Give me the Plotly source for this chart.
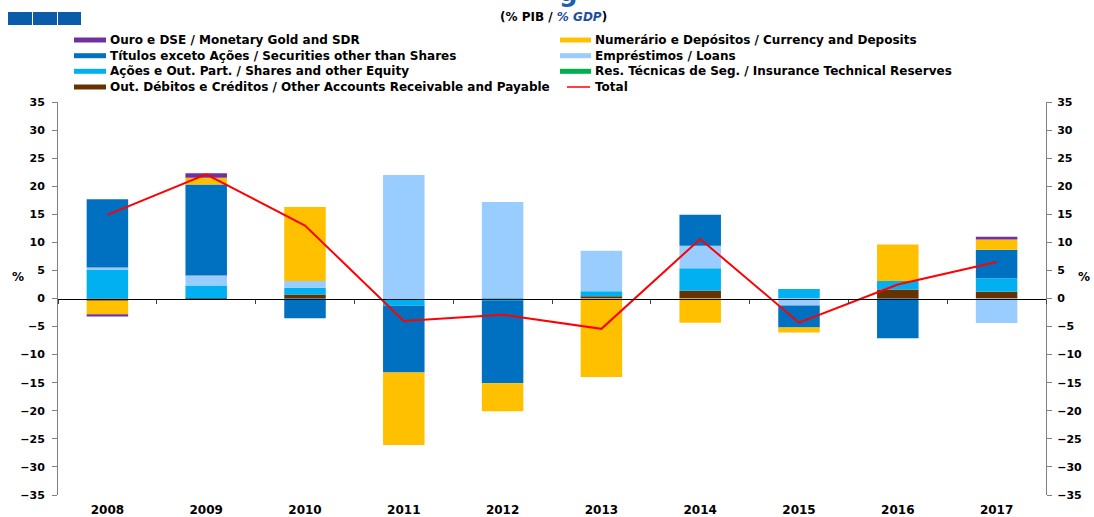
import plotly.graph_objects as go

# ---------------- data ----------------
years = ["2008", "2009", "2010", "2011", "2012", "2013", "2014", "2015", "2016", "2017"]

gold       = [-0.4, 0.8, 0.0, 0.0, 0.0, 0.0, 0.0, 0.0, 0.0, 0.5]
currency   = [-2.4, 1.2, 13.2, -12.9, -5.0, -14.0, -4.3, -0.9, 6.5, 1.8]
securities = [12.2, 16.2, -3.5, -11.9, -14.8, 0.0, 5.5, -3.9, -7.1, 5.1]
loans      = [0.3, 1.8, 1.2, 22.0, 17.2, 7.2, 4.0, -1.25, 0.0, -4.35]
shares     = [5.2, 2.3, 1.2, -1.3, -0.3, 0.9, 4.0, 1.7, 1.5, 2.4]
insurance  = [0.0, 0.0, 0.0, 0.0, 0.0, 0.0, 0.0, 0.0, 0.0, 0.0]
other      = [-0.4, -0.2, 0.7, 0.0, 0.0, 0.4, 1.4, 0.0, 1.6, 1.2]
total      = [14.9, 22.1, 13.0, -4.0, -2.9, -5.4, 10.6, -4.3, 2.5, 6.5]

y_ticks = list(range(-35, 40, 5))

names = {
    "gold": "Ouro e DSE / Monetary Gold and SDR",
    "currency": "Numerário e Depósitos / Currency and Deposits",
    "securities": "Títulos exceto Ações / Securities other than Shares",
    "loans": "Empréstimos / Loans",
    "shares": "Ações e Out. Part. / Shares and other Equity",
    "insurance": "Res. Técnicas de Seg. / Insurance Technical Reserves",
    "other": "Out. Débitos e Créditos / Other Accounts Receivable and Payable",
    "total": "Total",
}
colors = {
    "gold": "#7030A0",
    "currency": "#FFC000",
    "securities": "#0070C0",
    "loans": "#99CCFF",
    "shares": "#00B0F0",
    "insurance": "#00B050",
    "other": "#663300",
    "total": "#FF0000",
}
series = {
    "gold": gold, "currency": currency, "securities": securities, "loans": loans,
    "shares": shares, "insurance": insurance, "other": other,
}

# ---------------- geometry ----------------
W, H = 1094, 517
L, R, T, B = 58, 1046, 102, 495
FONT = "DejaVu Sans"


def px(x):
    return (x - L) / (R - L)


def py(y):
    return (B - y) / (B - T)


fig = go.Figure()

# stacking order (bottom -> top)
for key in ["other", "insurance", "shares", "loans", "securities", "currency", "gold"]:
    fig.add_trace(go.Bar(
        x=years, y=series[key], name=names[key], marker_color=colors[key],
        marker_line_width=0, showlegend=False,
    ))

fig.add_trace(go.Scatter(
    x=years, y=total, name=names["total"], mode="lines",
    line=dict(color=colors["total"], width=2), xaxis="x2", yaxis="y2",
    showlegend=False,
))

axis_gray = "#808080"
yax_common = dict(
    range=[-35, 35], tickmode="array", tickvals=y_ticks, automargin=False,
    showgrid=False, zeroline=False, showline=True, linecolor=axis_gray, linewidth=1,
    ticks="outside", ticklen=5, tickcolor=axis_gray, tickwidth=1,
    tickfont=dict(family=FONT, size=11, color="black", weight="bold"),
)

fig.update_layout(
    width=W, height=H,
    margin=dict(l=L, r=W - R, t=T, b=H - B, pad=0, autoexpand=False),
    paper_bgcolor="white", plot_bgcolor="white",
    barmode="relative", bargap=0.58,
    xaxis=dict(
        type="category", categoryorder="array", categoryarray=years, range=[-0.5, 9.5],
        showgrid=False, zeroline=False, showline=False, automargin=False,
        ticks="outside", ticklen=4, tickcolor="rgba(0,0,0,0)",
        tickfont=dict(family=FONT, size=12, color="black", weight="bold"),
    ),
    xaxis2=dict(
        type="category", categoryorder="array", categoryarray=years, range=[-0.5, 9.5],
        overlaying="x", anchor="free", position=0.5, automargin=False,
        showgrid=False, zeroline=False, showline=True, linecolor="black", linewidth=1,
        ticks="outside", tickson="boundaries", ticklen=4, tickcolor="#404040",
        showticklabels=False,
    ),
    yaxis=dict(**yax_common, side="left", ticklabelstandoff=5),
    yaxis2=dict(**yax_common, side="right", overlaying="y", anchor="x2", ticklabelstandoff=3),
    yaxis3=dict(range=[-35, 35], tickmode="array", tickvals=y_ticks, overlaying="y",
                side="left", anchor="x", showgrid=False, zeroline=False, showline=False,
                automargin=False,
                ticks="inside", ticklen=5, tickcolor=axis_gray, showticklabels=False),
    yaxis4=dict(range=[-35, 35], tickmode="array", tickvals=y_ticks, overlaying="y",
                side="right", anchor="x", showgrid=False, zeroline=False, showline=False,
                automargin=False,
                ticks="inside", ticklen=5, tickcolor=axis_gray, showticklabels=False),
)

shapes = []
annotations = []

# header blocks
for x0, x1 in [(8, 32), (33, 57), (58, 81)]:
    shapes.append(dict(type="rect", xref="paper", yref="paper",
                       x0=px(x0), x1=px(x1), y0=py(25), y1=py(12),
                       fillcolor="#0B5CA8", line=dict(width=0)))

# cut-off title descender (title itself lies above the visible frame)
annotations.append(dict(xref="paper", yref="paper", x=px(568), y=py(9),
                        xanchor="center", yanchor="bottom", showarrow=False,
                        text="g", font=dict(family=FONT, size=26, color="#1F5FAA", weight="bold")))

# subtitle
annotations.append(dict(xref="paper", yref="paper", x=px(553), y=py(17),
                        xanchor="center", yanchor="middle", showarrow=False,
                        text="(% PIB / <span style='color:#1F4E9A'><i>% GDP</i></span>)",
                        font=dict(family=FONT, size=12, color="black", weight="bold")))

# manual legend
rows = [40, 55.7, 71.3, 87]
legend_items = [
    ("gold", 0, 0), ("currency", 1, 0),
    ("securities", 0, 1), ("loans", 1, 1),
    ("shares", 0, 2), ("insurance", 1, 2),
    ("other", 0, 3), ("total", 1, 3),
]
col_sw = [(74, 106), (560, 591)]
col_tx = [108, 593]
for key, c, r in legend_items:
    yc = rows[r]
    if key == "total":
        shapes.append(dict(type="line", xref="paper", yref="paper",
                           x0=px(567), x1=px(590), y0=py(yc), y1=py(yc),
                           line=dict(color=colors[key], width=1.5)))
    else:
        shapes.append(dict(type="rect", xref="paper", yref="paper",
                           x0=px(col_sw[c][0]), x1=px(col_sw[c][1]),
                           y0=py(yc + 2.5), y1=py(yc - 2.5),
                           fillcolor=colors[key], line=dict(width=0)))
    annotations.append(dict(xref="paper", yref="paper", x=px(col_tx[c]), y=py(yc),
                            xanchor="left", yanchor="middle", showarrow=False,
                            text=names[key],
                            font=dict(family=FONT, size=12, color="black", weight="bold")))

# % axis labels
for xx in [18, 1084]:
    annotations.append(dict(xref="paper", yref="paper", x=px(xx), y=py(277),
                            xanchor="center", yanchor="middle", showarrow=False, text="%",
                            font=dict(family=FONT, size=12, color="black", weight="bold")))

fig.update_layout(shapes=shapes, annotations=annotations)

fig.write_html(
    "out.html",
    config={"displayModeBar": False},
    post_script="document.body.style.margin='0';document.body.style.overflow='hidden';",
)
